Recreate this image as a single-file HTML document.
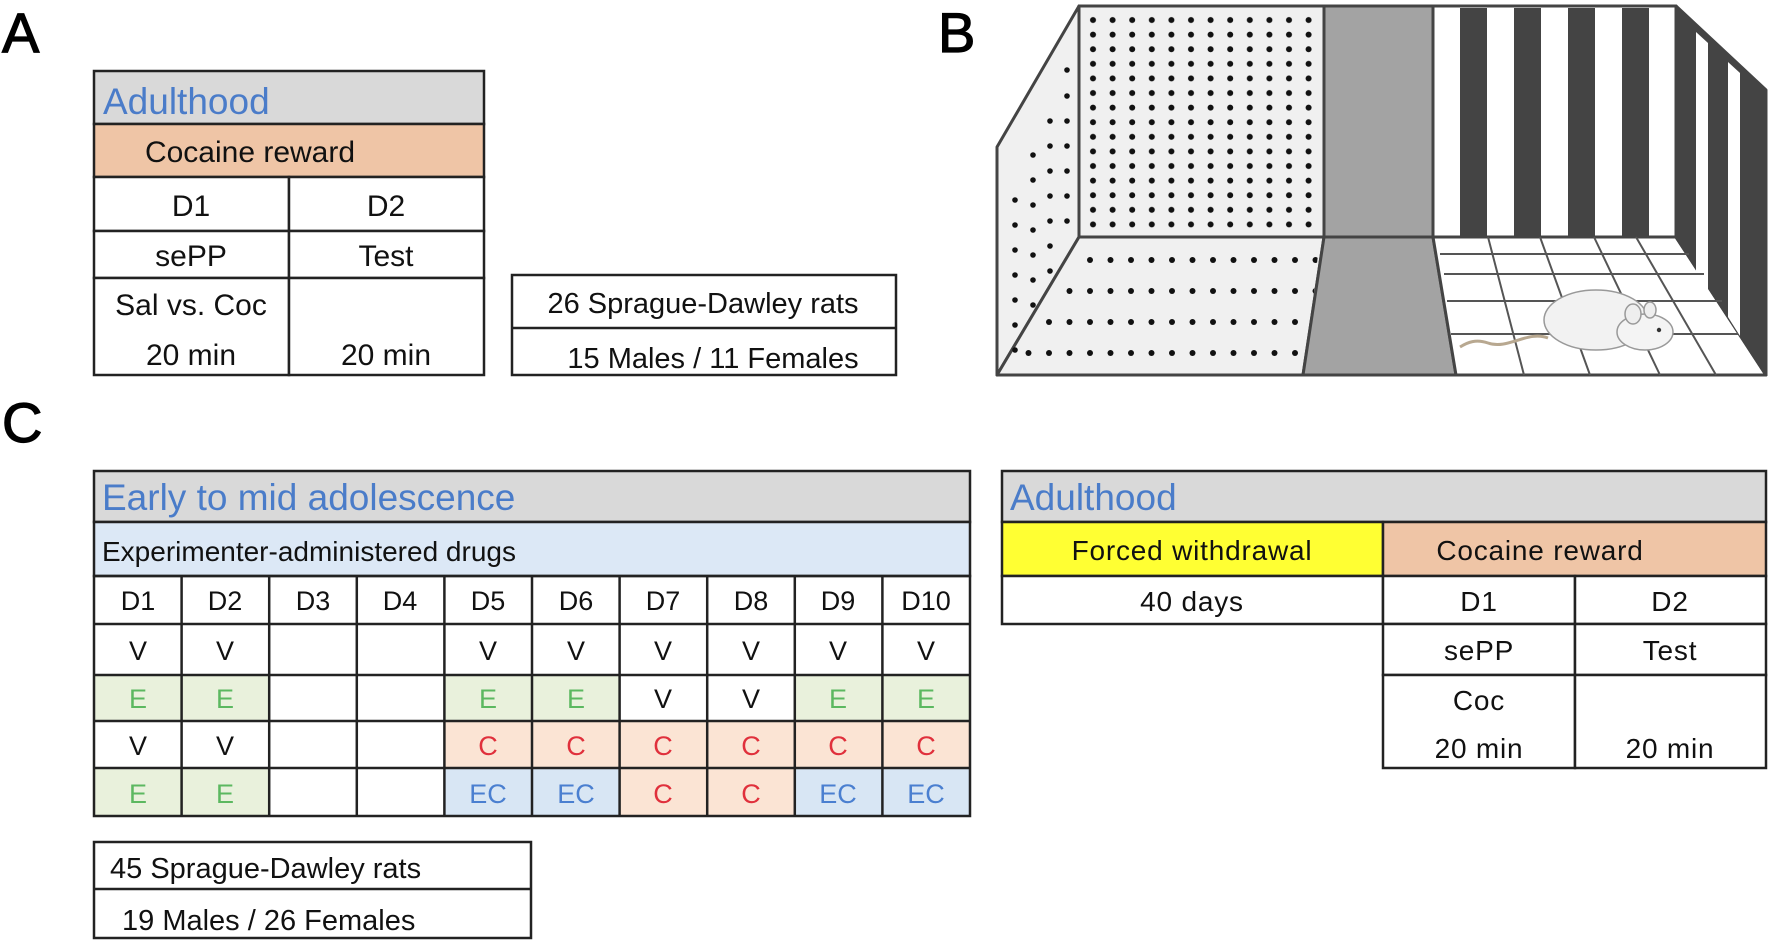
<!DOCTYPE html>
<html><head><meta charset="utf-8"><style>
html,body{margin:0;padding:0;background:#fff;}
svg{display:block;}
text{font-family:"Liberation Sans",Arial,sans-serif;}
</style></head><body>
<svg width="1772" height="949" viewBox="0 0 1772 949" xmlns="http://www.w3.org/2000/svg">
<defs>
<pattern id="dots" x="1087" y="14" width="19.6" height="14.6" patternUnits="userSpaceOnUse">
<circle cx="6" cy="6" r="3" fill="#111"/></pattern>
<pattern id="fdots" x="1000" y="252" width="20.5" height="31" patternUnits="userSpaceOnUse">
<circle cx="8" cy="8" r="3" fill="#111"/></pattern>
</defs>
<!-- Panel letters -->
<text x="2" y="52" font-size="56" stroke="#000" stroke-width="1.2">A</text>
<text x="938" y="52" font-size="56" stroke="#000" stroke-width="1.2">B</text>
<text x="2" y="442" font-size="56" stroke="#000" stroke-width="1.2">C</text>

<!-- Panel A -->
<g stroke="#222" stroke-width="2.5">
<rect x="94" y="71" width="390" height="53" fill="#d9d9d9"/>
<rect x="94" y="124" width="390" height="53" fill="#efc5a6"/>
<rect x="94" y="177" width="195" height="54" fill="#fff"/><rect x="289" y="177" width="195" height="54" fill="#fff"/>
<rect x="94" y="231" width="195" height="47" fill="#fff"/><rect x="289" y="231" width="195" height="47" fill="#fff"/>
<rect x="94" y="278" width="195" height="97" fill="#fff"/><rect x="289" y="278" width="195" height="97" fill="#fff"/>
<rect x="512" y="275" width="384" height="100" fill="#fff"/>
<line x1="512" y1="328" x2="896" y2="328"/>
</g>
<g font-size="30" fill="#111" text-anchor="middle">
<text x="103" y="114" font-size="37" fill="#4a7cc9" text-anchor="start">Adulthood</text>
<text x="250" y="162">Cocaine reward</text>
<text x="191" y="216">D1</text><text x="386" y="216">D2</text>
<text x="191" y="266">sePP</text><text x="386" y="266">Test</text>
<text x="191" y="315">Sal vs. Coc</text>
<text x="191" y="365">20 min</text><text x="386" y="365">20 min</text>
<text x="703" y="313" font-size="29">26 Sprague-Dawley rats</text>
<text x="713" y="368" font-size="29">15 Males / 11 Females</text>
</g>

<!-- Panel B -->
<g stroke="#444" stroke-width="3" stroke-linejoin="round">
<polygon points="997,147 1079,6 1079,237 997,375" fill="#f0f0f0"/>
<rect x="1079" y="6" width="245" height="231" fill="#f0f0f0"/>
<rect x="1324" y="6" width="109" height="231" fill="#a3a3a3"/>
<rect x="1433" y="6" width="243" height="231" fill="#fff"/>
<polygon points="1079,237 1324,237 1303,375 997,375" fill="#f0f0f0"/>
<polygon points="1324,237 1433,237 1456,375 1303,375" fill="#a3a3a3"/>
<polygon points="1433,237 1676,237 1766,375 1456,375" fill="#fff"/>
<polygon points="1676,6 1766,90 1766,375 1676,237" fill="#444"/>
</g>
<rect x="1083" y="12" width="237" height="222" fill="url(#dots)"/>
<polygon points="1090,254 1318,254 1306,368 1012,368" fill="url(#fdots)"/>
<g fill="#111">
<circle cx="1067" cy="70" r="2.8"/><circle cx="1067" cy="96" r="2.8"/><circle cx="1067" cy="121" r="2.8"/><circle cx="1067" cy="146" r="2.8"/><circle cx="1067" cy="171" r="2.8"/><circle cx="1067" cy="196" r="2.8"/><circle cx="1067" cy="221" r="2.8"/>
<circle cx="1050" cy="121" r="2.8"/><circle cx="1050" cy="146" r="2.8"/><circle cx="1050" cy="171" r="2.8"/><circle cx="1050" cy="196" r="2.8"/><circle cx="1050" cy="221" r="2.8"/><circle cx="1050" cy="246" r="2.8"/><circle cx="1050" cy="271" r="2.8"/>
<circle cx="1033" cy="155" r="2.8"/><circle cx="1033" cy="180" r="2.8"/><circle cx="1033" cy="205" r="2.8"/><circle cx="1033" cy="230" r="2.8"/><circle cx="1033" cy="255" r="2.8"/><circle cx="1033" cy="280" r="2.8"/><circle cx="1033" cy="305" r="2.8"/>
<circle cx="1015" cy="200" r="2.8"/><circle cx="1015" cy="225" r="2.8"/><circle cx="1015" cy="250" r="2.8"/><circle cx="1015" cy="275" r="2.8"/><circle cx="1015" cy="300" r="2.8"/><circle cx="1015" cy="325" r="2.8"/><circle cx="1015" cy="350" r="2.8"/>
</g>
<g fill="#444">
<rect x="1460" y="8" width="27" height="228"/><rect x="1514" y="8" width="27" height="228"/>
<rect x="1568" y="8" width="27" height="228"/><rect x="1622" y="8" width="27" height="228"/>
</g>
<g stroke="#444" stroke-width="3"><line x1="1433" y1="6" x2="1676" y2="6"/><line x1="1433" y1="237" x2="1676" y2="237"/><line x1="1676" y1="6" x2="1676" y2="237"/></g>
<polygon points="1696,32 1708,43 1708,290 1696,271" fill="#fff"/>
<polygon points="1728,62 1740,73 1740,336 1728,317" fill="#fff"/>
<g stroke="#555" stroke-width="2" fill="none">
<line x1="1440" y1="254" x2="1689" y2="254"/>
<line x1="1444" y1="274" x2="1704" y2="274"/>
<line x1="1447" y1="301" x2="1722" y2="301"/>
<line x1="1451" y1="334" x2="1738" y2="334"/>
<line x1="1488" y1="237" x2="1524" y2="375"/>
<line x1="1540" y1="237" x2="1590" y2="375"/>
<line x1="1594" y1="237" x2="1660" y2="375"/>
<line x1="1636" y1="237" x2="1716" y2="375"/>
</g>
<path d="M1548,338 C1528,330 1508,350 1488,343 C1476,339 1468,342 1460,347" stroke="#b8a890" stroke-width="3" fill="none"/>
<ellipse cx="1596" cy="320" rx="52" ry="30" fill="#f2f2f2" stroke="#999" stroke-width="1.5"/>
<ellipse cx="1645" cy="332" rx="28" ry="18" fill="#f4f4f4" stroke="#999" stroke-width="1.5"/>
<ellipse cx="1633" cy="314" rx="8" ry="10" fill="#eee" stroke="#999" stroke-width="1.5"/>
<ellipse cx="1650" cy="310" rx="6" ry="8" fill="#eee" stroke="#999" stroke-width="1.5"/>
<circle cx="1659" cy="330" r="2.2" fill="#333"/>

<!-- Panel C left table -->
<g stroke="#222" stroke-width="2.5">
<rect x="94" y="471" width="876" height="51" fill="#d9d9d9"/>
<rect x="94" y="522" width="876" height="54" fill="#dce8f6"/>
</g>
<g stroke="#222" stroke-width="2.5">
<g stroke="none">
<rect x="94" y="675" width="175" height="46" fill="#e9f1dc"/>
<rect x="444" y="675" width="175" height="46" fill="#e9f1dc"/>
<rect x="794" y="675" width="176" height="46" fill="#e9f1dc"/>
<rect x="444" y="721" width="526" height="47" fill="#fbe4d4"/>
<rect x="94" y="768" width="175" height="48" fill="#e9f1dc"/>
<rect x="444" y="768" width="175" height="48" fill="#d8e6f4"/>
<rect x="619" y="768" width="175" height="48" fill="#fbe4d4"/>
<rect x="794" y="768" width="176" height="48" fill="#d8e6f4"/>
</g>
<rect x="94" y="576" width="876" height="240" fill="none"/>
<line x1="94" y1="624" x2="970" y2="624"/><line x1="94" y1="675" x2="970" y2="675"/>
<line x1="94" y1="721" x2="970" y2="721"/><line x1="94" y1="768" x2="970" y2="768"/>
<line x1="181.6" y1="576" x2="181.6" y2="816"/><line x1="269.2" y1="576" x2="269.2" y2="816"/>
<line x1="356.8" y1="576" x2="356.8" y2="816"/><line x1="444.4" y1="576" x2="444.4" y2="816"/>
<line x1="532" y1="576" x2="532" y2="816"/><line x1="619.6" y1="576" x2="619.6" y2="816"/>
<line x1="707.2" y1="576" x2="707.2" y2="816"/><line x1="794.8" y1="576" x2="794.8" y2="816"/>
<line x1="882.4" y1="576" x2="882.4" y2="816"/>
</g>
<text x="102" y="510" font-size="37" fill="#4a7cc9">Early to mid adolescence</text>
<text x="102" y="561" font-size="28" fill="#111">Experimenter-administered drugs</text>
<g font-size="27" text-anchor="middle" fill="#111">
<text x="138" y="610">D1</text><text x="225" y="610">D2</text><text x="313" y="610">D3</text><text x="400" y="610">D4</text><text x="488" y="610">D5</text><text x="576" y="610">D6</text><text x="663" y="610">D7</text><text x="751" y="610">D8</text><text x="838" y="610">D9</text><text x="926" y="610">D10</text>
<text x="138" y="660">V</text><text x="225" y="660">V</text><text x="488" y="660">V</text><text x="576" y="660">V</text><text x="663" y="660">V</text><text x="751" y="660">V</text><text x="838" y="660">V</text><text x="926" y="660">V</text>
<g fill="#5cb860"><text x="138" y="708">E</text><text x="225" y="708">E</text><text x="488" y="708">E</text><text x="576" y="708">E</text><text x="838" y="708">E</text><text x="926" y="708">E</text></g>
<text x="663" y="708">V</text><text x="751" y="708">V</text>
<text x="138" y="755">V</text><text x="225" y="755">V</text>
<g fill="#e0303c"><text x="488" y="755">C</text><text x="576" y="755">C</text><text x="663" y="755">C</text><text x="751" y="755">C</text><text x="838" y="755">C</text><text x="926" y="755">C</text><text x="663" y="803">C</text><text x="751" y="803">C</text></g>
<g fill="#5cb860"><text x="138" y="803">E</text><text x="225" y="803">E</text></g>
<g fill="#4a7fd0"><text x="488" y="803">EC</text><text x="576" y="803">EC</text><text x="838" y="803">EC</text><text x="926" y="803">EC</text></g>
</g>
<g stroke="#222" stroke-width="2.5"><rect x="94" y="842" width="437" height="96" fill="#fff"/><line x1="94" y1="889" x2="531" y2="889"/></g>
<text x="110" y="878" font-size="29" fill="#111">45 Sprague-Dawley rats</text>
<text x="122" y="930" font-size="29" fill="#111">19 Males / 26 Females</text>

<!-- Panel C right table -->
<g stroke="#222" stroke-width="2.5">
<rect x="1002" y="471" width="764" height="51" fill="#d9d9d9"/>
<rect x="1002" y="522" width="381" height="54" fill="#ffff33"/>
<rect x="1383" y="522" width="383" height="54" fill="#efc5a6"/>
<rect x="1002" y="576" width="381" height="48" fill="#fff"/>
<rect x="1383" y="576" width="192" height="48" fill="#fff"/><rect x="1575" y="576" width="191" height="48" fill="#fff"/>
<rect x="1383" y="624" width="192" height="51" fill="#fff"/><rect x="1575" y="624" width="191" height="51" fill="#fff"/>
<rect x="1383" y="675" width="192" height="93" fill="#fff"/><rect x="1575" y="675" width="191" height="93" fill="#fff"/>
</g>
<text x="1010" y="510" font-size="37" fill="#4a7cc9">Adulthood</text>
<g font-size="28" text-anchor="middle" fill="#111" letter-spacing="0.8">
<text x="1192" y="560">Forced withdrawal</text>
<text x="1540" y="560">Cocaine reward</text>
<text x="1192" y="611">40 days</text>
<text x="1479" y="611">D1</text><text x="1670" y="611">D2</text>
<text x="1479" y="660">sePP</text><text x="1670" y="660">Test</text>
<text x="1479" y="710">Coc</text>
<text x="1479" y="758">20 min</text><text x="1670" y="758">20 min</text>
</g>
</svg>
</body></html>
